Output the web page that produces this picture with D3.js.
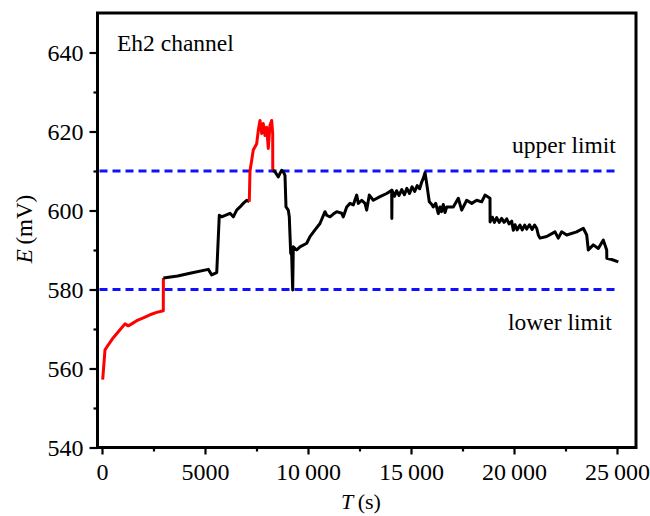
<!DOCTYPE html>
<html>
<head>
<meta charset="utf-8">
<script src="https://cdn.jsdelivr.net/npm/d3@7"></script>
<style>
  html, body { margin: 0; padding: 0; background: #fff; }
  svg { display: block; }
  text { font-family: "Liberation Serif", "Times New Roman", serif; fill: #000; }
</style>
</head>
<body>
<svg id="chart" width="650" height="516"></svg>
<script>
// Eh2 channel potential record: time (s) and electrode potential (mV)
const timeS = [
  34, 146, 306, 549, 874, 1116, 1277, 1442, 1684, 2005, 2330, 2655, 2976, 2980,
  3675, 4272, 5160, 5325, 5485, 5570, 5694, 5810, 6213, 6374, 6538, 6699, 6859, 7024,
  7150, 7184, 7267, 7344, 7509, 7587, 7670, 7752, 7830, 7912, 7995, 8072, 8155, 8237, 8286, 8290,
  8398, 8558, 8640, 8723, 8801, 8883, 8932, 9043, 9092, 9160, 9208, 9257, 9286, 9451, 9611,
  9937, 10097, 10340, 10582, 10825, 10908, 11068, 11228, 11393, 11636, 11714, 11879, 12039,
  12199, 12364, 12442, 12607, 12767, 12850, 12976, 13170, 13495, 13820, 14063, 14070, 14080,
  14200, 14300, 14420, 14550, 14680, 14800, 14930, 15050, 15180, 15300, 15420, 15520, 15600,
  15680, 15762, 15888, 16000, 16082, 16200, 16325, 16408, 16480, 16568, 16650,
  16733, 17053, 17296, 17461, 17704, 17947, 18190, 18432, 18592, 18835, 18840, 18950, 19050,
  19160, 19280, 19400, 19520, 19646, 19760, 19888, 19966, 20050, 20150, 20291, 20400, 20520,
  20617, 20750, 20880, 21000, 21102, 21180, 21262, 21588, 21990, 22150, 22315, 22558, 23043,
  23364, 23529, 23607, 23850, 24092, 24335, 24500, 24505, 24743, 25063
];
const potentialMV = [
  557.2, 564.7, 566.0, 567.8, 569.8, 571.3, 570.8, 571.3, 572.1, 572.8, 573.6, 574.2, 574.6, 582.9,
  583.4, 584.1, 585.1, 583.7, 584.1, 584.3, 598.8, 598.4, 599.3, 598.4, 600.1, 600.9, 601.8, 602.6,
  602.2, 610.0, 612.7, 615.3, 616.9, 620.3, 622.8, 619.5, 622.0, 619.0, 621.1, 615.7, 621.6, 622.8, 619.5, 610.2,
  609.8, 608.5, 609.4, 610.2, 609.8, 608.9, 600.9, 600.1, 598.4, 589.2, 588.7, 579.9, 590.8, 590.0, 590.8,
  591.7, 593.4, 595.1, 596.7, 599.7, 598.8, 598.4, 599.1, 599.7, 599.3, 598.4, 600.9, 601.8,
  601.4, 603.9, 601.8, 602.6, 601.8, 600.1, 603.9, 602.6, 603.5, 604.3, 605.1, 598.0, 605.1,
  603.6, 605.0, 603.8, 605.3, 604.0, 605.6, 604.3, 606.0, 604.8, 606.3, 605.5, 607.2, 608.2,
  609.6, 606.8, 602.2, 601.6, 600.9, 601.8, 599.2, 600.9, 599.7, 601.5, 599.5,
  600.9, 600.9, 603.1, 600.1, 602.6, 601.8, 602.6, 602.2, 603.9, 603.1, 597.1, 598.3, 597.0,
  598.2, 597.0, 598.0, 597.0, 597.9, 596.6, 597.3, 595.0, 596.4, 595.1, 596.3, 595.1, 596.3,
  595.3, 596.4, 595.2, 596.3, 595.5, 593.8, 593.0, 593.4, 594.6, 593.0, 594.6, 593.8, 594.6,
  595.5, 593.8, 590.0, 591.3, 590.4, 592.5, 590.0, 587.9, 587.6, 587.0
];
// Time windows in which the channel was flagged (drawn in red)
const alarmWindows = [[0, 2980], [7150, 8290]];

// Control limits (mV)
const limitValues = [610, 580];
const limitLabels = ["upper limit", "lower limit"];

// Axis ticks
const yMajorTicks = [540, 560, 580, 600, 620, 640];
const yMinorTicks = [550, 570, 590, 610, 630];
const xMajorTicks = [0, 5000, 10000, 15000, 20000, 25000];
const xMinorTicks = [2500, 7500, 12500, 17500, 22500];

const channelName = "Eh2 channel";

const svg = d3.select("#chart");
const plotLeft = 97.5, plotTop = 13, plotRight = 636, plotBottom = 447.5;

const x = d3.scaleLinear().domain([-218, 25922]).range([plotLeft, plotRight]);
const y = d3.scaleLinear().domain([540, 650]).range([plotBottom, plotTop]);

const fmtX = d => d >= 10000 ? String(Math.floor(d / 1000)) + "\u2009" + "000" : String(d);

// Minor ticks
svg.append("g")
  .attr("transform", `translate(${plotLeft},0)`)
  .call(d3.axisLeft(y).tickValues(yMinorTicks).tickSize(4).tickFormat(""))
  .call(g => g.select(".domain").remove())
  .call(g => g.selectAll("line").attr("stroke-width", 2.2));
svg.append("g")
  .attr("transform", `translate(0,${plotBottom})`)
  .call(d3.axisBottom(x).tickValues(xMinorTicks).tickSize(4).tickFormat(""))
  .call(g => g.select(".domain").remove())
  .call(g => g.selectAll("line").attr("stroke-width", 2.2));

// Major ticks with labels
svg.append("g")
  .attr("transform", `translate(${plotLeft},0)`)
  .call(d3.axisLeft(y).tickValues(yMajorTicks).tickSize(8).tickPadding(6))
  .call(g => g.select(".domain").remove())
  .call(g => g.selectAll("line").attr("stroke-width", 2.2))
  .call(g => g.selectAll("text").attr("font-size", 24).attr("font-family", "Liberation Serif"));
svg.append("g")
  .attr("transform", `translate(0,${plotBottom})`)
  .call(d3.axisBottom(x).tickValues(xMajorTicks).tickSize(7).tickPadding(8).tickFormat(fmtX))
  .call(g => g.select(".domain").remove())
  .call(g => g.selectAll("line").attr("stroke-width", 2.2))
  .call(g => g.selectAll("text").attr("font-size", 24).attr("font-family", "Liberation Serif"));

// Limit lines
svg.append("g").selectAll("line").data(limitValues).join("line")
  .attr("x1", plotLeft + 2).attr("x2", x(24880))
  .attr("y1", d => y(d)).attr("y2", d => y(d))
  .attr("stroke", "#1010ff").attr("stroke-width", 3)
  .attr("stroke-dasharray", "8,5");

// Potential trace, split into runs by alarm state
const pts = timeS.map((t, i) => ({
  t, v: potentialMV[i],
  alarm: alarmWindows.some(([a, b]) => t >= a && t <= b)
}));
const runs = [];
for (let i = 0; i < pts.length - 1; i++) {
  const red = pts[i].alarm && pts[i + 1].alarm;
  const last = runs[runs.length - 1];
  if (last && last.red === red) last.pts.push(pts[i + 1]);
  else runs.push({ red, pts: [pts[i], pts[i + 1]] });
}
const line = d3.line().x(d => x(d.t)).y(d => y(d.v));
svg.append("g").selectAll("path").data(runs).join("path")
  .attr("d", d => line(d.pts))
  .attr("fill", "none")
  .attr("stroke", d => d.red ? "#ff0000" : "#000")
  .attr("stroke-width", 3)
  .attr("stroke-linejoin", "round");

// Frame
svg.append("path")
  .attr("d", `M${plotLeft},${plotBottom}V${plotTop}H${plotRight}V${plotBottom}Z`)
  .attr("fill", "none").attr("stroke", "#000").attr("stroke-width", 3);

// Annotations
svg.append("text").attr("x", 117).attr("y", 51).attr("font-size", 23.5).text(channelName);
svg.selectAll(".lim").data(limitLabels).join("text")
  .attr("class", "lim")
  .attr("x", (d, i) => i === 0 ? 512 : 508)
  .attr("y", (d, i) => i === 0 ? 153 : 330)
  .attr("font-size", 23.5)
  .text(d => d);

// Axis titles
const yt = svg.append("text")
  .attr("transform", "translate(32,229) rotate(-90)")
  .attr("text-anchor", "middle").attr("font-size", 23);
yt.append("tspan").attr("font-style", "italic").text("E");
yt.append("tspan").text("\u2009(mV)");

const xt = svg.append("text")
  .attr("x", 361).attr("y", 509)
  .attr("text-anchor", "middle").attr("font-size", 22);
xt.append("tspan").attr("font-style", "italic").text("T");
xt.append("tspan").text("\u2009(s)");
</script>
</body>
</html>
